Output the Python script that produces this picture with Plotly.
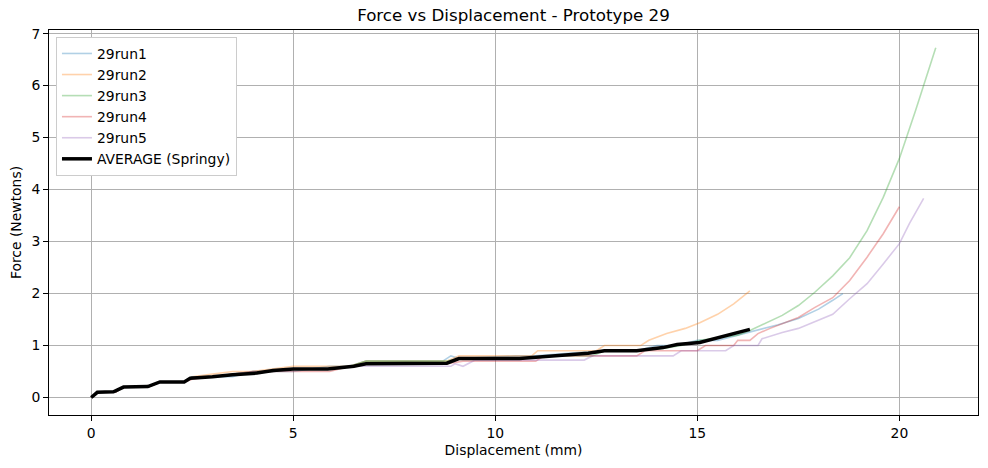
import plotly.graph_objects as go

# ---- data ----
run1_x = [0, 0.15, 0.6, 0.8, 1.4, 1.7, 2.3, 2.5, 3.0, 3.5, 4.0, 4.5, 5.0, 5.9, 6.4, 6.8, 8.7, 8.9, 9.1, 10.5, 11.0, 11.8, 12.6, 13.5, 14.0, 14.5, 15.0, 15.5, 16.0, 16.5, 17.0, 17.5, 18.0, 18.35, 18.6]
run1_y = [0, 0.1, 0.1, 0.2, 0.2, 0.3, 0.3, 0.4, 0.4, 0.4, 0.5, 0.5, 0.5, 0.6, 0.6, 0.7, 0.7, 0.8, 0.75, 0.8, 0.8, 0.85, 0.9, 0.9, 1.0, 1.0, 1.1, 1.1, 1.2, 1.3, 1.4, 1.52, 1.7, 1.87, 2.0]

run2_x = [0, 0.15, 0.6, 0.8, 1.4, 1.7, 2.3, 2.5, 3.0, 3.5, 4.0, 4.5, 5.0, 5.9, 6.4, 6.8, 8.8, 9.1, 10.9, 11.05, 12.5, 12.7, 13.6, 13.8, 14.24, 14.7, 15.06, 15.5, 15.9, 16.3]
run2_y = [0, 0.1, 0.1, 0.2, 0.2, 0.3, 0.3, 0.4, 0.45, 0.5, 0.5, 0.55, 0.6, 0.6, 0.6, 0.7, 0.7, 0.8, 0.8, 0.9, 0.9, 1.0, 1.0, 1.1, 1.23, 1.33, 1.44, 1.6, 1.8, 2.05]

run3_x = [0, 0.15, 0.6, 0.8, 1.4, 1.7, 2.3, 2.5, 3.0, 3.5, 4.0, 4.5, 5.0, 5.9, 6.4, 6.8, 8.8, 9.1, 10.6, 11.4, 12.4, 12.7, 13.5, 14.2, 14.6, 15.06, 15.5, 16.0, 16.3, 16.7, 17.1, 17.5, 17.9, 18.35, 18.77, 19.2, 19.6, 20.0, 20.4, 20.9]
run3_y = [0, 0.1, 0.1, 0.2, 0.2, 0.3, 0.3, 0.4, 0.4, 0.45, 0.5, 0.5, 0.55, 0.55, 0.6, 0.7, 0.7, 0.75, 0.75, 0.8, 0.8, 0.9, 0.9, 0.95, 1.0, 1.1, 1.15, 1.2, 1.29, 1.44, 1.58, 1.77, 2.02, 2.34, 2.69, 3.21, 3.85, 4.6, 5.52, 6.73]

run4_x = [0, 0.15, 0.6, 0.8, 1.4, 1.7, 2.3, 2.5, 3.0, 3.5, 4.0, 4.5, 5.0, 5.9, 6.4, 6.8, 8.8, 9.2, 11.0, 11.2, 13.5, 13.7, 15.0, 15.2, 15.9, 16.0, 16.3, 16.5, 16.8, 17.1, 17.5, 17.9, 18.35, 18.77, 19.2, 19.6, 20.0]
run4_y = [0, 0.1, 0.1, 0.2, 0.2, 0.3, 0.3, 0.35, 0.4, 0.45, 0.5, 0.5, 0.5, 0.5, 0.6, 0.65, 0.65, 0.7, 0.7, 0.8, 0.8, 0.9, 0.9, 1.0, 1.0, 1.1, 1.1, 1.23, 1.33, 1.42, 1.54, 1.73, 1.92, 2.25, 2.7, 3.15, 3.67]

run5_x = [0, 0.15, 0.6, 0.8, 1.4, 1.7, 2.3, 2.5, 3.0, 3.5, 4.0, 4.5, 5.0, 5.9, 6.4, 6.8, 8.9, 9.0, 9.2, 9.5, 12.2, 12.4, 14.4, 14.6, 15.7, 15.9, 16.5, 16.6, 17.1, 17.5, 17.9, 18.35, 18.77, 19.2, 19.6, 20.0, 20.25, 20.6]
run5_y = [0, 0.1, 0.1, 0.2, 0.2, 0.3, 0.3, 0.4, 0.4, 0.45, 0.5, 0.5, 0.55, 0.55, 0.6, 0.6, 0.6, 0.65, 0.6, 0.72, 0.72, 0.8, 0.8, 0.9, 0.9, 1.0, 1.0, 1.13, 1.25, 1.33, 1.45, 1.6, 1.9, 2.19, 2.57, 2.96, 3.35, 3.83]

avg_x = [0, 0.15, 0.55, 0.8, 1.4, 1.7, 2.3, 2.45, 3.0, 3.5, 4.1, 4.5, 5.0, 5.85, 6.5, 6.8, 8.8, 9.1, 10.6, 11.4, 12.3, 12.7, 13.5, 14.15, 14.5, 15.06, 15.4, 15.8, 16.3]
avg_y = [0, 0.1, 0.11, 0.2, 0.21, 0.3, 0.3, 0.37, 0.4, 0.44, 0.47, 0.52, 0.55, 0.55, 0.6, 0.65, 0.66, 0.75, 0.75, 0.8, 0.85, 0.9, 0.9, 0.96, 1.02, 1.06, 1.13, 1.2, 1.31]

run_names = ["29run1", "29run2", "29run3", "29run4", "29run5"]
run_colors = ["rgba(31,119,180,0.35)", "rgba(255,127,14,0.35)", "rgba(44,160,44,0.35)",
              "rgba(214,39,40,0.35)", "rgba(148,103,189,0.35)"]
runs = [(run1_x, run1_y), (run2_x, run2_y), (run3_x, run3_y), (run4_x, run4_y), (run5_x, run5_y)]

FONT = "DejaVu Sans"
FS = 13.9

fig = go.Figure()
for (xs, ys), name, col in zip(runs, run_names, run_colors):
    fig.add_trace(go.Scatter(x=xs, y=ys, mode="lines", name=name,
                             line=dict(color=col, width=1.6)))
fig.add_trace(go.Scatter(x=avg_x, y=avg_y, mode="lines", name="AVERAGE (Springy)",
                         line=dict(color="black", width=3.5)))

axis_common = dict(showline=True, mirror=True, linecolor="black", linewidth=1,
                   showgrid=True, gridcolor="#b0b0b0", gridwidth=1,
                   ticks="outside", ticklen=5, tickcolor="black",
                   tickfont=dict(family=FONT, size=FS, color="black"),
                   zeroline=False)

fig.update_layout(
    width=988, height=468,
    margin=dict(l=49, r=10, t=30, b=53),
    paper_bgcolor="white", plot_bgcolor="white",
    title=dict(text="Force vs Displacement - Prototype 29", x=0.5, xref="paper",
               xanchor="center", y=1 - 15 / 468, yanchor="middle",
               font=dict(family=FONT, size=16.7, color="black")),
    xaxis=dict(range=[-1.045, 21.945], tickvals=[0, 5, 10, 15, 20],
               title=dict(text="Displacement (mm)", font=dict(family=FONT, size=FS, color="black"), standoff=5),
               **axis_common),
    yaxis=dict(range=[-0.3365, 7.07], tickvals=[0, 1, 2, 3, 4, 5, 6, 7],
               title=dict(text="Force (Newtons)", font=dict(family=FONT, size=FS, color="black"), standoff=6),
               **axis_common),
    legend=dict(x=0.0075, y=0.982, xanchor="left", yanchor="top",
                bgcolor="white", bordercolor="#cccccc", borderwidth=1,
                font=dict(family=FONT, size=FS, color="black"),
                tracegroupgap=0),
    showlegend=True,
)

fig.write_html("out.html")
